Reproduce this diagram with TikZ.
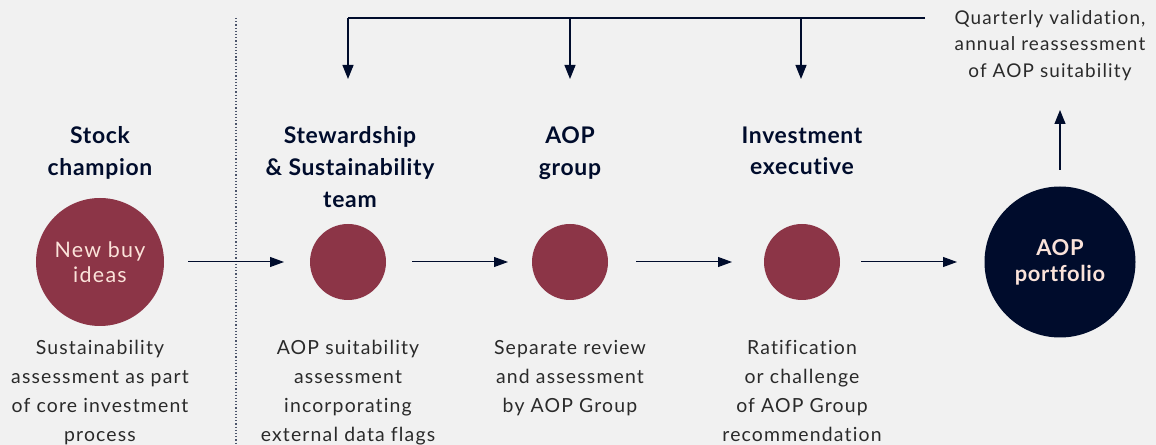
\documentclass[tikz,border=0pt]{standalone}
\usepackage{fontspec}
\setmainfont{Lato}[LetterSpace=6,Ligatures=NoCommon]
\newfontfamily\headfont{Lato}[LetterSpace=3,Ligatures=NoCommon,FontFace={b}{n}{Lato Bold}]
\usetikzlibrary{arrows.meta}
\definecolor{bg}{HTML}{F1F1F1}
\definecolor{navy}{HTML}{000C2C}
\definecolor{maroon}{HTML}{8C3547}
\definecolor{bodytext}{HTML}{2A2A2A}
\definecolor{pinktext}{HTML}{FBE3DA}
\begin{document}
\begin{tikzpicture}[x=1bp,y=-1bp,
  heading/.style={align=center,text=navy,font=\headfont\bfseries\fontsize{23}{32}\selectfont,anchor=north},
  desc/.style={align=center,text=bodytext,font=\fontsize{19.5}{29}\selectfont,anchor=north},
  smallcirc/.style={circle,fill=maroon,minimum size=76bp,inner sep=0pt},
  flow/.style={draw=navy,line width=1bp,-{Triangle[length=14bp,width=10bp]}},
  feed/.style={draw=navy,line width=1.2bp,-{Triangle[length=14bp,width=11bp]}}]
\fill[bg] (0,0) rectangle (1156,445);
\useasboundingbox (0,0) rectangle (1156,445);
% divider between idea generation and assessment
\draw[navy!70,dotted,line width=1.2bp] (236,18) -- (236,445);
% circles
\node[circle,fill=maroon,minimum size=128bp,inner sep=0pt,text=pinktext,align=center,
  font=\fontsize{21.5}{25}\selectfont] (ideas) at (100,262) {New buy\\ideas};
\node[smallcirc] (ss) at (348,262) {};
\node[smallcirc] (grp) at (570,262) {};
\node[smallcirc] (exec) at (802,262) {};
\node[circle,fill=navy,minimum size=151bp,inner sep=0pt,text=pinktext,align=center,
  font=\headfont\bfseries\fontsize{22}{26}\selectfont] (port) at (1060,262) {AOP\\portfolio};
% headings
\node[heading] (h1) at (100,123) {Stock\\champion};
\node[heading] (h2) at (350,123) {Stewardship\\\& Sustainability\\team};
\node[heading] (h3) at (570,123) {AOP\\group};
\node[heading] (h4) at (802,123) {Investment\\executive};
% descriptions
\node[desc] (d1) at (100,337) {Sustainability\\assessment as part\\of core investment\\process};
\node[desc] (d2) at (348,337) {AOP suitability\\assessment\\incorporating\\external data flags};
\node[desc] (d3) at (570,337) {Separate review\\and assessment\\by AOP Group};
\node[desc] (d4) at (802,337) {Ratification\\or challenge\\of AOP Group\\recommendation};
\node[desc,font=\fontsize{19}{26.5}\selectfont] (review) at (1050,7) {Quarterly validation,\\annual reassessment\\of AOP suitability};
% main flow
\coordinate (a1s) at (188,262); \coordinate (a1e) at (284,262);
\coordinate (a2s) at (412,262); \coordinate (a2e) at (508,262);
\coordinate (a3s) at (636,262); \coordinate (a3e) at (732,262);
\coordinate (a4s) at (861,262); \coordinate (a4e) at (957,262);
\draw[flow] (a1s) -- (a1e);
\draw[flow] (a2s) -- (a2e);
\draw[flow] (a3s) -- (a3e);
\draw[flow] (a4s) -- (a4e);
% feedback loop
\coordinate (up1) at (1060,170); \coordinate (up2) at (1060,110);
\draw[feed] (up1) -- (up2);
\coordinate (tl) at (348,18); \coordinate (tr) at (925,18);
\coordinate (t2) at (570,18); \coordinate (t3) at (801,18);
\coordinate (b1) at (348,79); \coordinate (b2) at (570,79); \coordinate (b3) at (801,79);
\draw[navy,line width=1.2bp] (tr) -- (tl);
\draw[feed] (tl) -- (b1);
\draw[feed] (t2) -- (b2);
\draw[feed] (t3) -- (b3);
\end{tikzpicture}
\end{document}
